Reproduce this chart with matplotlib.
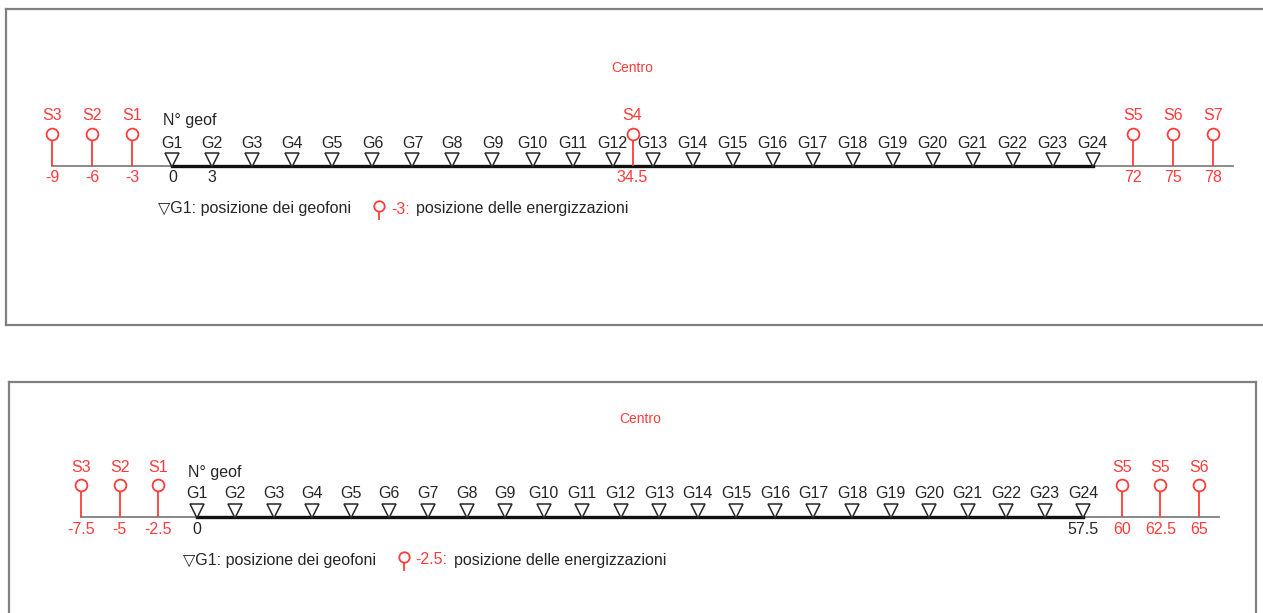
import matplotlib
matplotlib.use("Agg")
import matplotlib.pyplot as plt
from matplotlib.transforms import offset_copy

plt.rcParams['font.family'] = ['Liberation Sans', 'DejaVu Sans']

# stendimento superiore: 24 geofoni, passo 3 m
geo_top = [0, 3, 6, 9, 12, 15, 18, 21, 24, 27, 30, 33,
           36, 39, 42, 45, 48, 51, 54, 57, 60, 63, 66, 69]
shots_top = [-9, -6, -3, 34.5, 72, 75, 78]
shot_names_top = ['S3', 'S2', 'S1', 'S4', 'S5', 'S6', 'S7']
geo_ticks_top = [0, 3]

# stendimento inferiore: 24 geofoni, passo 2.5 m
geo_bot = [0, 2.5, 5, 7.5, 10, 12.5, 15, 17.5, 20, 22.5, 25, 27.5,
           30, 32.5, 35, 37.5, 40, 42.5, 45, 47.5, 50, 52.5, 55, 57.5]
shots_bot = [-7.5, -5, -2.5, 60, 62.5, 65]
shot_names_bot = ['S3', 'S2', 'S1', 'S5', 'S5', 'S6']
geo_ticks_bot = [0, 57.5]

geo_names = ['G%d' % i for i in range(1, 25)]

RED = '#ff3b3b'
DARK = '#262626'
GRAY = '#808080'
FS = 11.5

fig = plt.figure(figsize=(12.63, 6.13), dpi=100)

# pannelli (coordinate in pixel della figura -> frazioni)
W, H = 1263, 613
ax1 = fig.add_axes([6 / W, (H - 325) / H, 1269 / W, 316 / H])
ax2 = fig.add_axes([9 / W, (H - 625) / H, 1247 / W, 243 / H])


def draw_panel(ax, geo, shots, names, ticks, xlim, ylim):
    ax.set_xlim(xlim)
    ax.set_ylim(ylim)
    ax.set_xticks([])
    ax.set_yticks([])
    for sp in ax.spines.values():
        sp.set_color(GRAY)
        sp.set_linewidth(1.6)

    # y in pixel sopra/sotto la linea dello stendimento
    px_per_m = ax.get_position().width * W / (xlim[1] - xlim[0])
    ext = 20 / px_per_m

    ax.plot([shots[0], shots[-1] + ext], [0, 0], color=GRAY, lw=1.3, zorder=2)
    ax.plot([geo[0], geo[-1]], [0, 0], color='#111111', lw=2.4, zorder=3)

    # geofoni
    ax.plot(geo, [6.5] * len(geo), 'v', ms=9.5, mfc='white', mec=DARK,
            mew=1.1, ls='none', zorder=4)
    for g, n in zip(geo, geo_names):
        ax.text(g, 23, n, ha='center', va='center', fontsize=FS, color=DARK)
    for t in ticks:
        ax.text(t, -12, '%g' % t, ha='center', va='center', fontsize=FS, color=DARK)

    # energizzazioni
    ax.vlines(shots, 0, 27, color=RED, lw=1.3, zorder=3)
    ax.plot(shots, [32] * len(shots), 'o', ms=8.5, mfc='white', mec=RED,
            mew=1.3, ls='none', zorder=4)
    for s, n in zip(shots, names):
        ax.text(s, 50, n, ha='center', va='center', fontsize=FS, color=RED)
        ax.text(s, -12, '%g' % s, ha='center', va='center', fontsize=FS, color=RED)

    ax.annotate('N° geof', (geo[0], 45), xytext=(-9, 0), textcoords='offset pixels',
                ha='left', va='center', fontsize=FS, color=DARK)
    ax.text((geo[0] + geo[-1]) / 2, 98, 'Centro', ha='center', va='center',
            fontsize=10, color=RED)

    # legenda
    ax.annotate('\u25bdG1: posizione dei geofoni', (geo[0], -43), xytext=(-14, 0),
                textcoords='offset pixels', ha='left', va='center',
                fontsize=FS, color=DARK)
    tr = offset_copy(ax.transData, fig=fig, x=207, y=0, units='dots')
    ax.plot([geo[0], geo[0]], [-45, -53], color=RED, lw=1.3, transform=tr)
    ax.plot([geo[0]], [-40], 'o', ms=7.5, mfc='white', mec=RED, mew=1.3,
            transform=tr)
    val = ax.annotate('%g:' % shots[2], (geo[0], -43), xytext=(219, 0),
                      textcoords='offset pixels', ha='left', va='center',
                      fontsize=FS, color=RED)
    ax.annotate('posizione delle energizzazioni', (1, 0.5), xycoords=val,
                xytext=(6, 0), textcoords='offset pixels', ha='left',
                va='center', fontsize=FS, color=DARK)


draw_panel(ax1, geo_top, shots_top, shot_names_top, geo_ticks_top,
           (-12.47, 82.66), (-159, 157))
draw_panel(ax2, geo_bot, shots_bot, shot_names_bot, geo_ticks_bot,
           (-12.17, 68.70), (-108, 135))

fig.savefig('out.png', dpi=100)
